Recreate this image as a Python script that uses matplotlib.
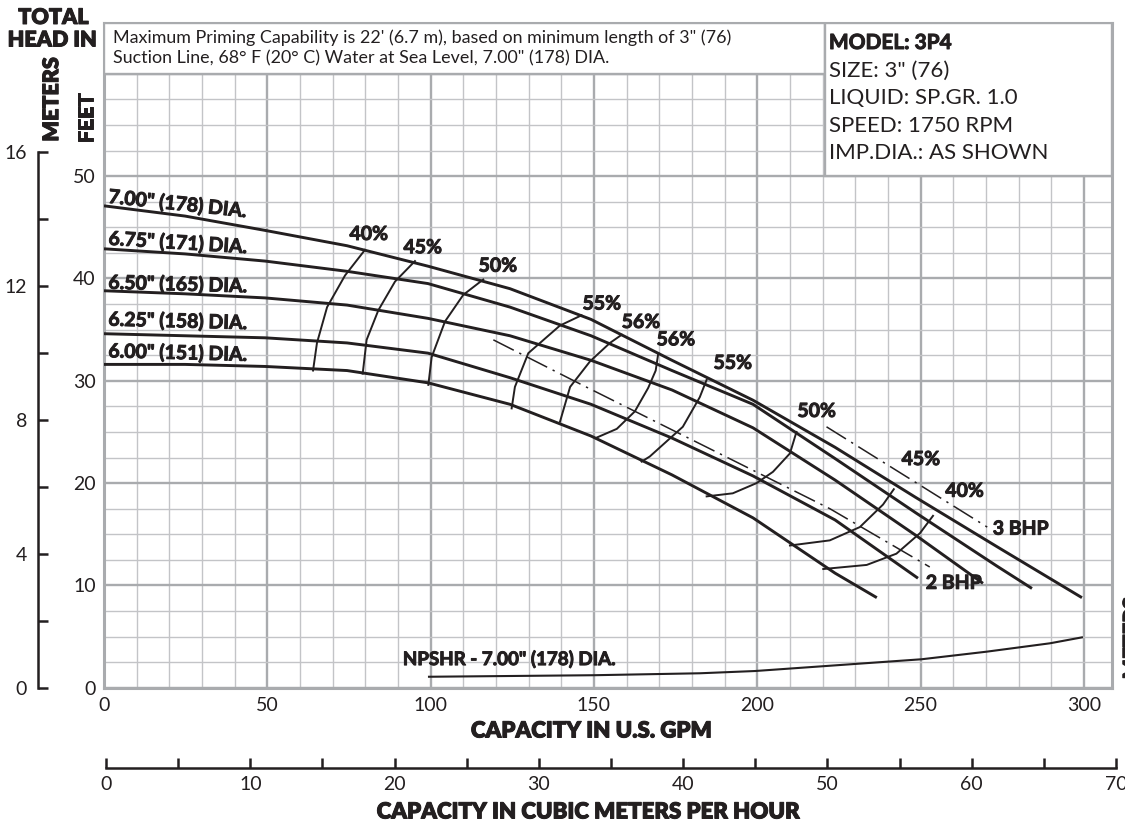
import matplotlib
matplotlib.use("Agg")
import matplotlib.pyplot as plt
import matplotlib.patheffects as pe
from matplotlib.patches import Rectangle

W, H = 1125, 822

# ---- data (capacity in U.S. GPM, head in feet) ----
gpm_ticks = [0, 50, 100, 150, 200, 250, 300]
feet_ticks = [0, 10, 20, 30, 40, 50]
meter_ticks = [0, 4, 8, 12, 16]
cmh_ticks = [0, 10, 20, 30, 40, 50, 60, 70]

dia_labels = ['7.00" (178) DIA.', '6.75" (171) DIA.', '6.50" (165) DIA.',
              '6.25" (158) DIA.', '6.00" (151) DIA.']

q_700 = [0, 24.8, 49.3, 74.4, 99.2, 124.3, 149.1, 173.9, 198.7, 223.8, 248.5, 273.3, 299.4]
h_700 = [47.1, 46.1, 44.7, 43.2, 41.2, 39.0, 36.0, 32.0, 28.1, 23.5, 18.6, 13.8, 8.8]
q_675 = [0, 24.8, 49.3, 74.4, 99.2, 124.3, 149.1, 173.9, 198.7, 223.8, 248.5, 273.3, 284.1]
h_675 = [42.9, 42.4, 41.7, 40.7, 39.5, 37.2, 34.4, 31.0, 27.7, 22.4, 17.1, 11.9, 9.7]
q_650 = [0, 24.8, 49.3, 74.4, 99.2, 124.3, 149.1, 173.9, 198.7, 223.8, 248.5, 269.1]
h_650 = [38.8, 38.5, 38.1, 37.4, 36.1, 34.4, 32.0, 29.1, 25.4, 20.3, 14.9, 10.2]
q_625 = [0, 24.8, 49.3, 74.4, 99.2, 124.3, 149.1, 173.9, 198.7, 223.8, 249.2]
h_625 = [34.6, 34.4, 34.2, 33.7, 32.7, 30.3, 27.7, 24.4, 20.7, 16.4, 10.7]
q_600 = [0, 24.8, 49.3, 74.4, 99.2, 124.3, 149.1, 173.9, 198.7, 223.8, 236.6]
h_600 = [31.6, 31.6, 31.4, 31.0, 29.8, 27.7, 24.6, 20.8, 16.6, 11.2, 8.8]

# iso-efficiency arcs
eff_labels = ['40%', '45%', '50%', '55%', '56%', '56%', '55%', '50%', '45%', '40%']
eff_q = [
    [79.9, 73.8, 68.3, 65.2, 64.0],
    [95.2, 89.1, 84.0, 80.4, 79.2],
    [116.1, 110.0, 104.4, 100.3, 99.3],
    [146.2, 139.6, 129.9, 125.8, 124.8],
    [158.5, 154.9, 148.8, 142.7, 139.6],
    [169.7, 168.9, 166.6, 162.5, 157.0, 150.5],
    [184.5, 182.4, 177.2, 167.1, 164.6],
    [212.0, 210.0, 204.8, 199.8, 192.5, 184.5],
    [241.8, 238.5, 231.4, 222.2, 210.0],
    [253.8, 249.8, 242.6, 233.5, 220.2],
]
eff_h = [
    [42.8, 40.3, 37.2, 33.7, 31.0],
    [41.7, 39.7, 36.9, 34.0, 30.7],
    [39.9, 38.4, 35.8, 32.3, 29.6],
    [36.4, 35.4, 32.7, 29.4, 27.3],
    [34.5, 33.7, 31.9, 29.4, 26.0],
    [32.7, 31.0, 29.3, 27.0, 25.3, 24.4],
    [30.1, 28.4, 25.5, 22.6, 22.1],
    [25.0, 22.9, 21.1, 20.0, 19.0, 18.7],
    [19.4, 17.9, 15.7, 14.4, 13.9],
    [16.8, 15.1, 13.1, 12.0, 11.6],
]
eff_label_q = [81.1, 97.6, 120.6, 152.4, 164.4, 175.1, 192.5, 218.2, 250.1, 263.5]
eff_label_h = [44.3, 43.0, 41.2, 37.5, 35.7, 34.0, 31.7, 27.0, 22.3, 19.2]

# brake horsepower lines
q_2bhp = [119.2, 145.7, 222.2, 252.8]
h_2bhp = [34.0, 29.7, 17.5, 11.8]
q_3bhp = [221.2, 270.4]
h_3bhp = [25.5, 15.7]

# NPSHR for 7.00" impeller
q_npsh = [99.5, 150.0, 182.4, 199.3, 229.9, 250.3, 270.2, 289.6, 299.4]
h_npsh = [1.07, 1.22, 1.41, 1.63, 2.32, 2.78, 3.52, 4.34, 4.92]

note_lines = ['Maximum Priming Capability is 22\' (6.7 m), based on minimum length of 3" (76)',
              'Suction Line, 68\u00b0 F (20\u00b0 C) Water at Sea Level, 7.00" (178) DIA.']
info_lines = ['SIZE: 3" (76)', 'LIQUID: SP.GR. 1.0', 'SPEED: 1750 RPM', 'IMP.DIA.: AS SHOWN']

plt.rcParams['font.family'] = ['Lato', 'DejaVu Sans']
ink = '#231f20'
g_major = '#a9abae'
g_minor = '#c3c4c7'
heavy = [pe.withStroke(linewidth=0.7, foreground=ink)]


def fpx(x, y):
    return x / W, 1 - y / H


fig = plt.figure(figsize=(W / 100, H / 100), dpi=100)
ax = fig.add_axes([104 / W, 1 - 687.7 / H, (1112 - 104) / W, (687.7 - 22.7) / H])
ax.set_xlim(0, 308.6)
ax.set_ylim(0, 65)

ax.set_xticks(gpm_ticks)
ax.set_xticks(range(0, 310, 10), minor=True)
ax.set_yticks(feet_ticks + [60])
ax.set_yticklabels([str(v) for v in feet_ticks] + [''])
ax.set_yticks([v * 2.5 for v in range(27)], minor=True)
ax.grid(which='major', color=g_major, lw=1.7)
ax.grid(which='minor', color=g_minor, lw=1.0)
ax.set_axisbelow(True)
ax.tick_params(which='both', length=0, labelsize=14, colors=ink)
ax.tick_params(axis='x', pad=7)
ax.tick_params(axis='y', pad=6)
for s in ax.spines.values():
    s.set_color(g_major)
    s.set_linewidth(2.2)

# head curves
for q, h in [(q_700, h_700), (q_675, h_675), (q_650, h_650), (q_625, h_625), (q_600, h_600)]:
    ax.plot(q, h, color=ink, lw=2.1, zorder=5, solid_capstyle='butt', solid_joinstyle='round')

label_pos = [(1.2, 47.4, -6), (1.3, 43.3, -3.5), (1.3, 39.0, -1.5), (1.3, 35.4, -1.5), (1.3, 32.3, -1.5)]
for txt, (lq, lh, rot) in zip(dia_labels, label_pos):
    ax.text(lq, lh, txt, fontsize=14, weight='bold', color=ink, ha='left', va='baseline',
            rotation=rot, rotation_mode='anchor', zorder=6, path_effects=heavy)

# efficiency arcs
for q, h in zip(eff_q, eff_h):
    ax.plot(q, h, color=ink, lw=1.4, zorder=5, solid_joinstyle='round')
for txt, lq, lh in zip(eff_labels, eff_label_q, eff_label_h):
    ax.text(lq, lh, txt, fontsize=14, weight='bold', color=ink, ha='center', va='center',
            zorder=6, path_effects=heavy)

# BHP lines
for q, h in [(q_2bhp, h_2bhp), (q_3bhp, h_3bhp)]:
    ax.plot(q, h, color=ink, lw=1.1, dashes=(15, 4, 1.5, 4), zorder=5)
ax.text(251.6, 10.2, '2 BHP', fontsize=14, weight='bold', color=ink, ha='left', va='center',
        zorder=6, path_effects=heavy)
ax.text(272.1, 15.5, '3 BHP', fontsize=14, weight='bold', color=ink, ha='left', va='center',
        zorder=6, path_effects=heavy)

# NPSHR
ax.plot(q_npsh, h_npsh, color=ink, lw=1.5, zorder=5)
ax.text(91.5, 2.8, 'NPSHR - 7.00" (178) DIA.', fontsize=13.5, weight='bold', color=ink,
        ha='left', va='center', zorder=6, path_effects=heavy)

# note boxes
ax.add_patch(Rectangle((0, 60), 220.7, 5, facecolor='white', edgecolor=g_major, lw=1.7, zorder=3))
ax.add_patch(Rectangle((220.7, 50), 87.9, 15, facecolor='white', edgecolor=g_major, lw=1.7, zorder=3))
for i, line in enumerate(note_lines):
    fig.text(*fpx(113, 38 + 20 * i), line, fontsize=12.9, color=ink, ha='left', va='center')
fig.text(*fpx(829, 43), 'MODEL: 3P4', fontsize=15, weight='bold', color=ink, ha='left',
         va='center', path_effects=heavy)
for i, line in enumerate(info_lines):
    fig.text(*fpx(829, 71 + 27.3 * i), line, fontsize=16, color=ink, ha='left', va='center')

# meters scale on the left
axm = fig.add_axes([38 / W, 1 - 687.7 / H, 0.0001, (687.7 - 22.7) / H])
axm.set_ylim(0, 19.85)
axm.patch.set_visible(False)
for k in ['top', 'right', 'bottom']:
    axm.spines[k].set_visible(False)
axm.spines['left'].set_bounds(0, 16)
axm.spines['left'].set_color(ink)
axm.spines['left'].set_linewidth(1.8)
axm.set_xticks([])
axm.set_yticks(meter_ticks)
axm.set_yticks([2, 6, 10, 14], minor=True)
axm.tick_params(which='both', direction='in', length=7, width=1.8, color=ink,
                labelsize=14, labelcolor=ink, pad=8)

# cubic meters per hour scale at the bottom
axc = fig.add_axes([106 / W, 1 - 768 / H, (1116 - 106) / W, 0.0001])
axc.set_xlim(0, 70)
axc.patch.set_visible(False)
for k in ['top', 'right', 'left']:
    axc.spines[k].set_visible(False)
axc.spines['bottom'].set_color(ink)
axc.spines['bottom'].set_linewidth(1.8)
axc.set_yticks([])
axc.set_xticks(cmh_ticks)
axc.set_xticks(range(5, 70, 10), minor=True)
axc.tick_params(which='both', direction='in', length=7, width=1.8, color=ink,
                labelsize=14, labelcolor=ink, pad=6)

# axis titles
title_kw = dict(fontsize=16, weight='heavy', color=ink, ha='center', va='center', path_effects=heavy)
fig.text(*fpx(592, 731), 'CAPACITY IN U.S. GPM', **title_kw)
fig.text(*fpx(589, 812), 'CAPACITY IN CUBIC METERS PER HOUR', **title_kw)
side_kw = dict(fontsize=15.5, weight='heavy', color=ink, ha='center', va='center', path_effects=heavy)
fig.text(*fpx(53.5, 17.5), 'TOTAL', **side_kw)
fig.text(*fpx(52, 40), 'HEAD IN', **side_kw)
fig.text(*fpx(51.7, 99.5), 'METERS', rotation=90, **side_kw)
fig.text(*fpx(86.7, 118), 'FEET', rotation=90, **side_kw)
fig.text(*fpx(1122, 638), 'METERS', fontsize=15, weight='heavy', color=ink, ha='left',
         va='center', rotation=90, path_effects=heavy)

fig.savefig('out.png', dpi=100)
